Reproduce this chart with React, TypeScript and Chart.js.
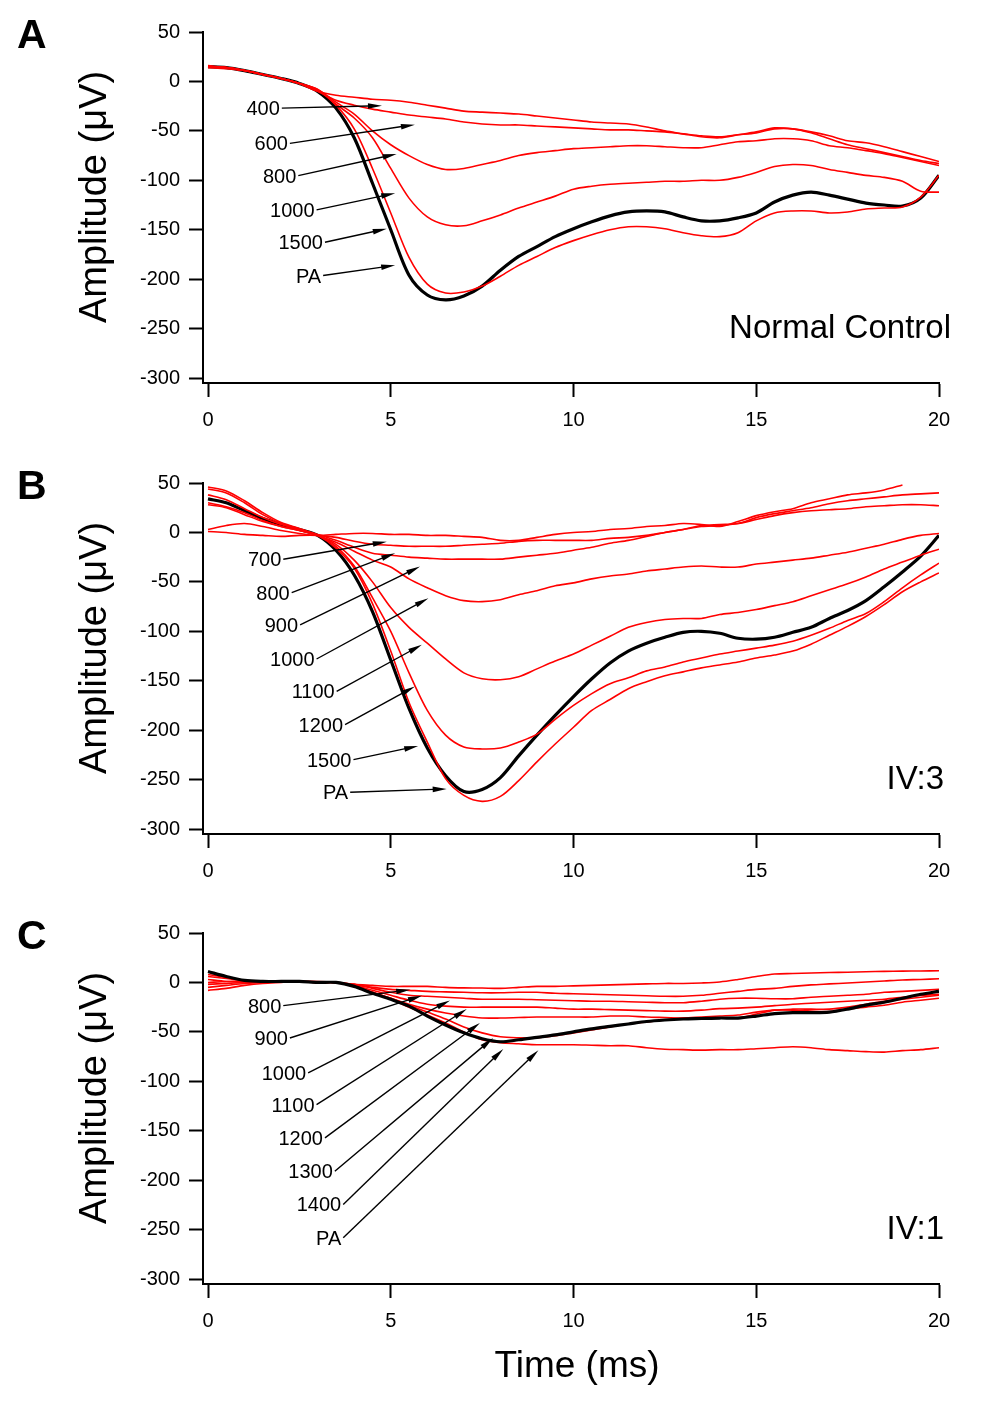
import React, { useEffect, useRef } from 'react';
import { Chart, registerables } from 'chart.js';

Chart.register(...registerables);

// ---------- data ----------
const TIME = [0, 0.5, 1, 1.5, 2, 2.5, 3, 3.5, 4, 4.5, 5, 5.5, 6, 6.5, 7, 7.5, 8, 8.5, 9, 9.5, 10,
  10.5, 11, 11.5, 12, 12.5, 13, 13.5, 14, 14.5, 15, 15.5, 16, 16.5, 17, 17.5, 18, 18.5, 19, 19.5, 20];

const X_TICKS = [0, 5, 10, 15, 20];
const Y_TICKS = [-300, -250, -200, -150, -100, -50, 0, 50];

// Panel A - Normal Control
const A_400 = [15, 14, 11, 7, 3, -2, -10, -14, -16, -18, -19, -21, -24, -27, -30, -31, -32, -33, -35, -37, -39, -41, -42, -43, -46, -50, -53, -56, -57, -54, -51, -47, -48, -51, -55, -60, -62, -66, -71, -76, -81];
const A_600 = [15, 14, 11, 7, 3, -2, -10, -19, -24, -28, -31, -34, -36, -38, -41, -43, -44, -44, -45, -46, -47, -48, -49, -49, -50, -51, -53, -55, -56, -54, -52, -48, -48, -52, -58, -64, -68, -72, -76, -80, -83];
const A_800 = [14, 13, 11, 7, 3, -2, -8, -21, -33, -50, -64, -75, -84, -89, -88, -84, -80, -75, -72, -70, -68, -67, -66, -65, -65, -66, -67, -67, -64, -61, -60, -58, -58, -60, -65, -67, -70, -73, -77, -81, -85];
const A_1000 = [15, 14, 11, 7, 3, -2, -8, -23, -37, -57, -88, -118, -137, -145, -146, -141, -135, -128, -122, -116, -109, -106, -104, -103, -102, -101, -101, -100, -100, -97, -92, -86, -84, -85, -89, -92, -95, -97, -101, -111, -112];
const A_1500 = [16, 14, 11, 7, 3, -2, -9, -24, -48, -88, -133, -178, -205, -214, -213, -207, -197, -186, -177, -168, -161, -155, -150, -147, -147, -149, -153, -156, -157, -153, -141, -133, -131, -131, -133, -132, -129, -128, -127, -117, -95];
const A_PA = [15, 14, 11, 7, 3, -2, -10, -27, -57, -103, -150, -196, -216, -221, -217, -207, -191, -177, -167, -157, -149, -142, -136, -132, -131, -132, -137, -141, -141, -138, -133, -122, -115, -112, -115, -119, -123, -125, -126, -118, -95];

// Panel B - IV:3
const B_700 = [3, 7, 9, 6, 2, -1, -3, -2, -1, -1, -2, -2, -3, -3, -4, -5, -8, -8, -5, -2, 0, 1, 3, 4, 6, 7, 9, 8, 6, 11, 17, 21, 24, 30, 34, 38, 40, 43, 48, null, null];
const B_800 = [1, 0, -2, -3, -4, -3, -3, -5, -9, -12, -13, -14, -14, -14, -13, -12, -11, -9, -8, -8, -8, -8, -6, -5, -3, 0, 3, 7, 8, 9, 15, 19, 22, 25, 29, 32, 34, 36, 38, 39, 40];
const B_900 = [28, 25, 18, 11, 6, 2, -2, -8, -15, -21, -23, -25, -26, -27, -27, -27, -27, -25, -23, -21, -18, -15, -11, -8, -4, 0, 3, 6, 7, 9, 13, 17, 20, 22, 23, 24, 26, 27, 28, 28, 27];
const B_1000 = [30, 26, 20, 12, 6, 2, -3, -10, -19, -28, -35, -47, -56, -64, -69, -70, -68, -63, -59, -54, -51, -47, -44, -42, -39, -37, -35, -34, -35, -35, -32, -30, -28, -26, -23, -20, -16, -12, -7, -3, -1];
const B_1100 = [38, 33, 24, 15, 8, 3, -3, -12, -28, -50, -76, -96, -112, -128, -142, -148, -149, -146, -138, -130, -123, -114, -105, -96, -91, -88, -87, -87, -83, -81, -78, -74, -70, -64, -58, -52, -45, -37, -30, -23, -17];
const B_1200 = [46, 42, 32, 20, 10, 4, -3, -14, -34, -66, -100, -142, -180, -205, -217, -219, -218, -212, -204, -189, -175, -163, -153, -147, -140, -136, -131, -127, -123, -120, -117, -114, -110, -104, -97, -89, -82, -70, -56, -43, -31];
const B_1500 = [44, 40, 30, 18, 9, 3, -3, -16, -36, -72, -120, -172, -212, -249, -266, -272, -267, -251, -232, -214, -197, -180, -169, -158, -151, -145, -141, -137, -134, -131, -127, -124, -120, -113, -104, -95, -85, -73, -60, -50, -41];
const B_PA = [34, 30, 22, 14, 8, 3, -3, -18, -43, -80, -129, -178, -218, -246, -262, -260, -248, -226, -205, -185, -166, -148, -132, -120, -112, -106, -101, -100, -102, -107, -108, -106, -101, -96, -87, -79, -69, -55, -40, -24, -3];

// Panel C - IV:1
const C_800 = [0, 1, 1, 1, 1, 1, 1, 0, -2, -3, -4, -4, -4, -5, -5.5, -5.7, -6, -5, -4, -4, -3.5, -3, -2.5, -2, -1.5, -1, -1, -0.5, 0.5, 3, 6, 8.5, 9, 9.5, 10, 10.3, 10.8, 11.2, 11.4, 11.6, 11.8];
const C_900 = [-8, -6, -3, -1, 0, 1, 0, 0, -2, -5, -7, -8, -9, -9.5, -10, -10.5, -10.5, -10, -10, -11, -11.5, -12, -12.5, -13, -13.5, -14, -14, -13, -11, -9, -7, -6, -4, -2.5, -1.5, -0.5, 0.5, 1.5, 2.5, 3, 3.7];
const C_1000 = [8, 5, 2, 1, 1, 1, 0, 0, -2, -6, -10, -13, -14, -15, -16, -17, -17, -17, -17.5, -18, -18.5, -19, -19, -19.5, -20, -20.5, -20.5, -19, -17, -16, -16, -16.5, -16.5, -15, -14, -13, -12, -10, -9, -8, -7];
const C_1100 = [6, 4, 2, 1, 1, 1, 0, 0, -3, -8, -13, -18, -22, -24, -25, -25, -25, -25, -25, -26, -27, -27, -27.5, -28, -28.5, -29, -29, -28, -26.5, -26, -25, -23.5, -22, -21, -20, -19, -18, -17, -15, -13, -12];
const C_1200 = [3, 1, 0, 0, 1, 1, 0, 0, -4, -10, -16, -22, -27, -31, -34, -36, -36, -35.5, -35, -35, -35, -35, -34, -34, -35, -35.5, -36, -36, -36, -36, -32, -28, -27, -27, -27, -25, -22, -19, -17, -15, -13];
const C_1300 = [-2, -1, 0, 1, 1, 1, 0, 0, -4, -10, -16, -23, -30, -37, -45, -51, -55, -56, -56, -54, -51, -48, -45, -42, -40, -38, -36, -35, -34, -33, -30, -28, -28, -29, -29.5, -27, -25, -23, -20, -18, -16];
const C_1400 = [-5, -3, -1, 0, 1, 1, 0, 0, -4, -10, -17, -25, -33, -41, -50, -58, -61, -62, -63, -63, -63, -63.5, -64, -64, -66, -67.5, -68, -68.5, -68, -68, -67, -66, -65, -66, -68, -69, -70, -70.5, -69, -68, -66];
const C_PA = [11, 6, 2, 1, 1, 1, 0, 0, -4, -11, -17, -24, -34, -43, -51, -57, -60, -58, -55.5, -53, -50, -47, -44.5, -42, -39.5, -38, -37, -36.5, -36, -36, -34, -31.5, -30.5, -30.5, -30, -27, -23, -20, -16, -12, -9];

// arrow annotations: [time, amplitude] of arrow tail (label end) and head
type Note = { label: string; from: [number, number]; to: [number, number] };
const A_NOTES: Note[] = [
  { label: '400', from: [2.02, -27], to: [4.76, -24.5] },
  { label: '600', from: [2.24, -62.6], to: [5.66, -43.7] },
  { label: '800', from: [2.47, -95.3], to: [5.16, -73.3] },
  { label: '1000', from: [2.97, -129.9], to: [5.12, -113] },
  { label: '1500', from: [3.2, -162.6], to: [4.89, -149] },
  { label: 'PA', from: [3.15, -196.3], to: [5.12, -186] },
];
const B_NOTES: Note[] = [
  { label: '700', from: [2.06, -27.1], to: [4.89, -9.3] },
  { label: '800', from: [2.29, -60.8], to: [5.12, -21] },
  { label: '900', from: [2.52, -93.4], to: [5.8, -34.5] },
  { label: '1000', from: [2.97, -128], to: [6.03, -66.5] },
  { label: '1100', from: [3.52, -160.8], to: [5.85, -113.6] },
  { label: '1200', from: [3.75, -194.4], to: [5.66, -155.7] },
  { label: '1500', from: [3.98, -229.8], to: [5.75, -216] },
  { label: 'PA', from: [3.89, -262.8], to: [6.53, -259.4] },
];
const C_NOTES: Note[] = [
  { label: '800', from: [2.06, -23.5], to: [5.53, -7.4] },
  { label: '900', from: [2.24, -56.2], to: [5.85, -13.4] },
  { label: '1000', from: [2.74, -91.5], to: [6.62, -18.2] },
  { label: '1100', from: [2.97, -123.5], to: [7.08, -26.9] },
  { label: '1200', from: [3.2, -157.2], to: [7.44, -41] },
  { label: '1300', from: [3.47, -190.9], to: [7.8, -56.2] },
  { label: '1400', from: [3.7, -224.5], to: [8.08, -67.3] },
  { label: 'PA', from: [3.7, -258.2], to: [9.04, -68.7] },
];

// ---------- style ----------
const FONT = "'Liberation Sans', Arial, Helvetica, sans-serif";
const RED = '#ff0000';
const BLACK = '#000000';
const W = 984;

type Series = { name: string; values: (number | null)[]; black?: boolean };
type Panel = {
  letter: string;
  condition: string;
  condRight: number;
  series: Series[];
  notes: Note[];
  top: number;
  height: number;
  xTitle?: string;
};

const PANELS: Panel[] = [
  {
    letter: 'A', condition: 'Normal Control', condRight: 951, top: 0, height: 451, notes: A_NOTES,
    series: [
      { name: '400', values: A_400 }, { name: '600', values: A_600 }, { name: '800', values: A_800 },
      { name: '1000', values: A_1000 }, { name: '1500', values: A_1500 }, { name: 'PA', values: A_PA, black: true },
    ],
  },
  {
    letter: 'B', condition: 'IV:3', condRight: 944, top: 451, height: 451, notes: B_NOTES,
    series: [
      { name: '700', values: B_700 }, { name: '800', values: B_800 }, { name: '900', values: B_900 },
      { name: '1000', values: B_1000 }, { name: '1100', values: B_1100 }, { name: '1200', values: B_1200 },
      { name: '1500', values: B_1500 }, { name: 'PA', values: B_PA, black: true },
    ],
  },
  {
    letter: 'C', condition: 'IV:1', condRight: 944, top: 901, height: 503, notes: C_NOTES, xTitle: 'Time (ms)',
    series: [
      { name: 'PA', values: C_PA, black: true },
      { name: '800', values: C_800 }, { name: '900', values: C_900 }, { name: '1000', values: C_1000 },
      { name: '1100', values: C_1100 }, { name: '1200', values: C_1200 }, { name: '1300', values: C_1300 },
      { name: '1400', values: C_1400 },
    ],
  },
];

const AREA_TOP = 32;
const AREA_BOTTOM = 383;
const AREA_LEFT = 203;
const AREA_RIGHT = 939;
const X_AXIS_H = 50;

function decorPlugin(p: Panel) {
  return {
    id: 'decor' + p.letter,
    afterDatasetsDraw(chart: any) {
      const { ctx } = chart;
      const xs = chart.scales.x;
      const ys = chart.scales.y;
      ctx.save();
      ctx.strokeStyle = BLACK;
      ctx.fillStyle = BLACK;
      ctx.lineWidth = 1.4;
      for (const n of p.notes) {
        const x0 = xs.getPixelForValue(n.from[0]);
        const y0 = ys.getPixelForValue(n.from[1]);
        const x1 = xs.getPixelForValue(n.to[0]);
        const y1 = ys.getPixelForValue(n.to[1]);
        const a = Math.atan2(y1 - y0, x1 - x0);
        const hl = 14;
        const hw = 2.8;
        const bx = x1 - hl * Math.cos(a);
        const by = y1 - hl * Math.sin(a);
        ctx.beginPath();
        ctx.moveTo(x0, y0);
        ctx.lineTo(bx + 1 * Math.cos(a), by + 1 * Math.sin(a));
        ctx.stroke();
        ctx.beginPath();
        ctx.moveTo(x1, y1);
        ctx.lineTo(bx + hw * Math.sin(a), by - hw * Math.cos(a));
        ctx.lineTo(bx - hw * Math.sin(a), by + hw * Math.cos(a));
        ctx.closePath();
        ctx.fill();
        ctx.font = `20px ${FONT}`;
        ctx.textAlign = 'right';
        ctx.textBaseline = 'middle';
        ctx.fillText(n.label, x0 - 2, y0 + 1.5);
      }
      ctx.restore();
    },
    afterDraw(chart: any) {
      const { ctx } = chart;
      ctx.save();
      ctx.fillStyle = BLACK;
      // panel letter
      ctx.font = `bold 41px ${FONT}`;
      ctx.textAlign = 'left';
      ctx.textBaseline = 'alphabetic';
      ctx.fillText(p.letter, 17, 48);
      // condition label
      ctx.font = `33px ${FONT}`;
      ctx.textAlign = 'right';
      ctx.fillText(p.condition, p.condRight, 338);
      // y title
      ctx.save();
      ctx.translate(106, 197);
      ctx.rotate(-Math.PI / 2);
      ctx.font = `38px ${FONT}`;
      ctx.textAlign = 'center';
      ctx.fillText('Amplitude (\u03bcV)', 0, 0);
      ctx.restore();
      if (p.xTitle) {
        ctx.font = `37px ${FONT}`;
        ctx.textAlign = 'center';
        ctx.fillText(p.xTitle, 577, 476);
      }
      ctx.restore();
    },
  };
}

function buildConfig(p: Panel): any {
  const datasets = p.series.map((s) => ({
    label: s.name,
    data: TIME.map((t, i) => ({ x: t, y: s.values[i] })),
    borderColor: s.black ? BLACK : RED,
    borderWidth: s.black ? 3.2 : 1.6,
    pointRadius: 0,
    tension: 0.3,
    fill: false,
    spanGaps: false,
  }));
  const axisCommon = {
    grid: {
      display: true,
      drawOnChartArea: false,
      drawTicks: true,
      tickLength: 14,
      tickWidth: 2,
      tickColor: BLACK,
    },
    border: { display: true, color: BLACK, width: 2 },
  };
  return {
    type: 'line',
    data: { datasets },
    options: {
      responsive: false,
      animation: false,
      events: [],
      layout: {
        padding: {
          top: AREA_TOP,
          left: 0,
          right: W - AREA_RIGHT,
          bottom: p.height - AREA_BOTTOM - X_AXIS_H,
        },
      },
      plugins: { legend: { display: false }, tooltip: { enabled: false }, title: { display: false } },
      scales: {
        x: {
          type: 'linear',
          min: -5 / 36.55,
          max: 20,
          ...axisCommon,
          afterBuildTicks: (s: any) => { s.ticks = X_TICKS.map((v) => ({ value: v })); },
          afterFit: (s: any) => { s.height = X_AXIS_H; },
          ticks: { color: BLACK, font: { family: FONT, size: 20 }, padding: 11, autoSkip: false, maxRotation: 0 },
        },
        y: {
          type: 'linear',
          min: -305,
          max: 50,
          ...axisCommon,
          afterBuildTicks: (s: any) => { s.ticks = Y_TICKS.map((v) => ({ value: v })); },
          afterFit: (s: any) => { s.width = AREA_LEFT; },
          ticks: { color: BLACK, font: { family: FONT, size: 20 }, padding: 9, autoSkip: false },
        },
      },
    },
    plugins: [decorPlugin(p)],
  };
}

function PanelChart({ p }: { p: Panel }) {
  const ref = useRef<HTMLCanvasElement | null>(null);
  useEffect(() => {
    if (!ref.current) return;
    const chart = new Chart(ref.current, buildConfig(p));
    return () => chart.destroy();
  }, [p]);
  return (
    <canvas
      ref={ref}
      width={W}
      height={p.height}
      style={{ position: 'absolute', left: 0, top: p.top, width: W, height: p.height }}
    />
  );
}

export default function App() {
  return (
    <div style={{ position: 'absolute', left: 0, top: 0, width: W, height: 1404, background: '#ffffff' }}>
      {PANELS.map((p) => (
        <PanelChart key={p.letter} p={p} />
      ))}
    </div>
  );
}
